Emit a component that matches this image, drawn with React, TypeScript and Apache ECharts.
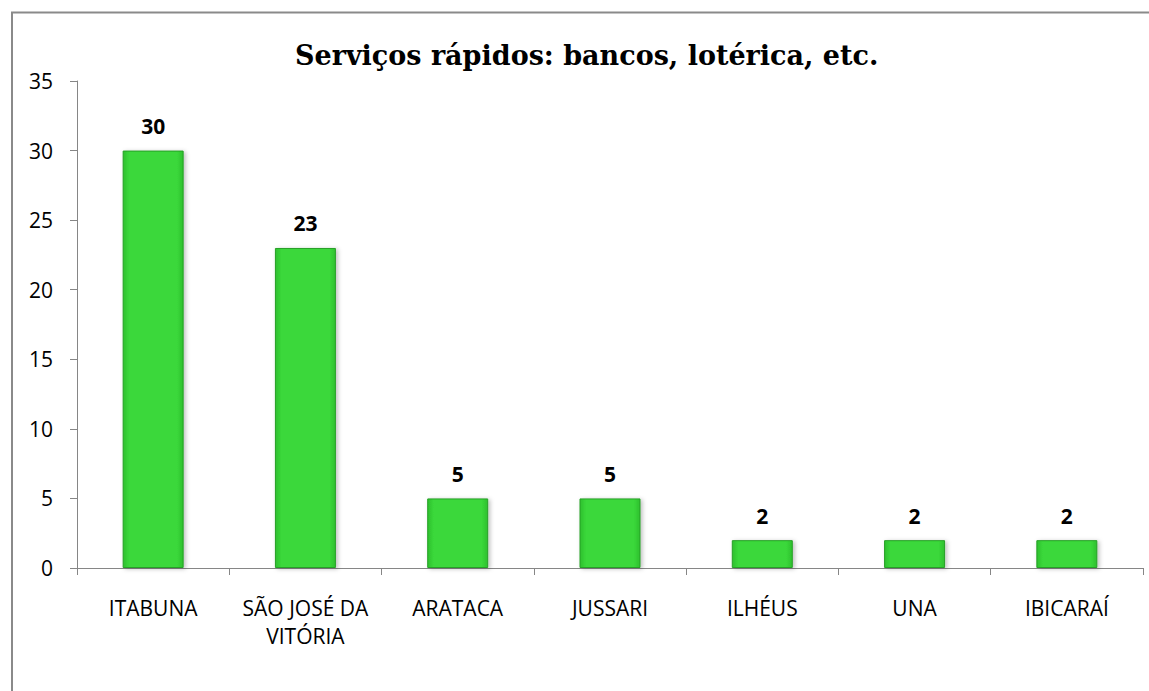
import React, { useEffect, useRef } from "react";
import * as echarts from "echarts";

const categories = ["ITABUNA", "SÃO JOSÉ DA\nVITÓRIA", "ARATACA", "JUSSARI", "ILHÉUS", "UNA", "IBICARAÍ"];
const values = [30, 23, 5, 5, 2, 2, 2];
const titleText = "Serviços rápidos: bancos, lotérica, etc.";

export default function App() {
  const ref = useRef<HTMLDivElement>(null);
  useEffect(() => {
    const chart = echarts.init(ref.current!, null, { renderer: "svg" });
    chart.setOption({
      animation: false,
      backgroundColor: "#ffffff",
      title: {
        text: titleText,
        left: 290,
        top: 37,
        textStyle: { fontFamily: "DejaVu Serif", fontWeight: "bold", fontSize: 27, color: "#000" },
      },
      graphic: [
        {
          type: "rect",
          shape: { x: 12, y: 12.5, width: 1160, height: 700 },
          style: { fill: "none", stroke: "#8a8a8a", lineWidth: 2 },
          silent: true,
        },
      ],
      grid: { left: 77, right: 6, top: 81, bottom: 123, containLabel: false },
      xAxis: {
        type: "category",
        data: categories,
        axisLine: { lineStyle: { color: "#868686", width: 1 } },
        axisTick: { show: true, length: 7, alignWithLabel: false, lineStyle: { color: "#868686" } },
        axisLabel: {
          interval: 0,
          margin: 26,
          fontFamily: "Open Sans",
          fontSize: 21,
          lineHeight: 28,
          color: "#000",
        },
      },
      yAxis: {
        type: "value",
        min: 0,
        max: 35,
        interval: 5,
        axisLine: { show: true, lineStyle: { color: "#868686", width: 1 } },
        axisTick: { show: true, length: 7, lineStyle: { color: "#868686" } },
        splitLine: { show: false },
        axisLabel: { fontFamily: "Open Sans", fontSize: 21, color: "#000", margin: 24 },
      },
      series: [
        {
          type: "bar",
          data: values,
          barWidth: 61,
          itemStyle: {
            color: new echarts.graphic.LinearGradient(0, 0, 1, 0, [
              { offset: 0, color: "#2ec02e" },
              { offset: 0.1, color: "#3ad83a" },
              { offset: 0.9, color: "#3ad83a" },
              { offset: 1, color: "#2ec02e" },
            ]),
            borderColor: "#26a026",
            borderWidth: 1,
            shadowColor: "rgba(0,0,0,0.25)",
            shadowBlur: 4,
            shadowOffsetX: 2,
            shadowOffsetY: 1,
          },
          label: {
            show: true,
            position: "top",
            distance: 14,
            fontFamily: "Open Sans",
            fontWeight: "bold",
            fontSize: 21,
            color: "#000",
          },
        },
      ],
    });
    return () => chart.dispose();
  }, []);
  return <div ref={ref} style={{ position: "fixed", left: 0, top: 0, width: 1149, height: 691 }} />;
}
